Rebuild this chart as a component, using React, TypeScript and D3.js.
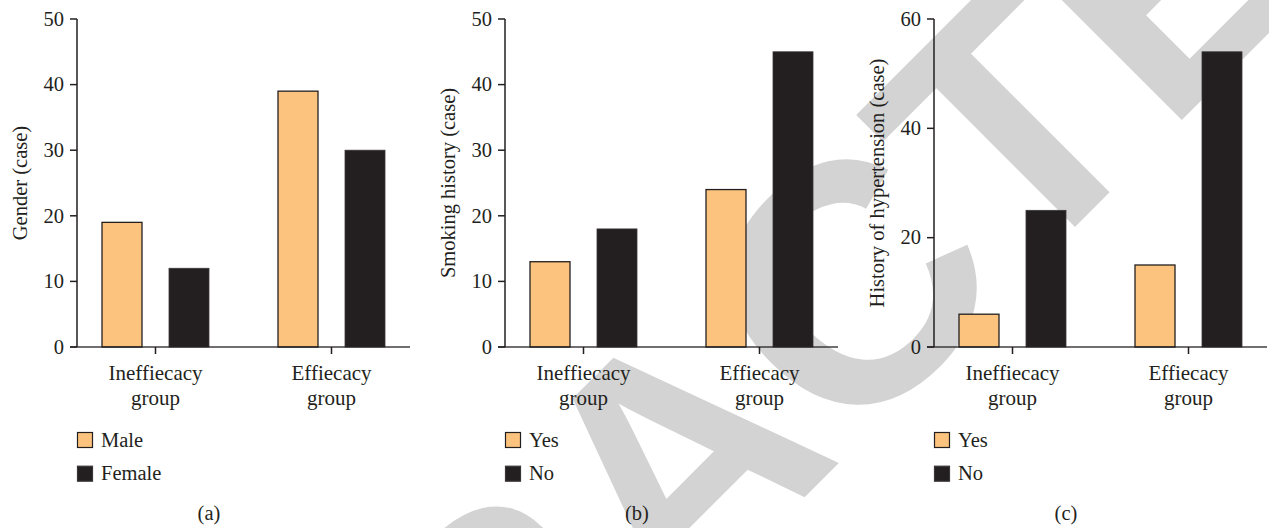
import React from "react";
import * as d3 from "d3";

const groups = ["Ineffiecacy group", "Effiecacy group"];
const groupLines = [["Ineffiecacy", "group"], ["Effiecacy", "group"]];

const genderSeries = ["Male", "Female"];
const genderValues = [[19, 12], [39, 30]];

const smokingSeries = ["Yes", "No"];
const smokingValues = [[13, 18], [24, 45]];

const hyperSeries = ["Yes", "No"];
const hyperValues = [[6, 25], [15, 54]];

const panelA = { title: "Gender (case)", max: 50, ticks: [0, 10, 20, 30, 40, 50], tag: "(a)" };
const panelB = { title: "Smoking history (case)", max: 50, ticks: [0, 10, 20, 30, 40, 50], tag: "(b)" };
const panelC = { title: "History of hypertension (case)", max: 60, ticks: [0, 20, 40, 60], tag: "(c)" };

const watermark = "RETRACTED";

const INK = "#231f20";
const ORANGE = "#fbc37e";
const SERIF = "Liberation Serif, DejaVu Serif, serif";

type PanelProps = {
  x0: number;
  cfg: { title: string; max: number; ticks: number[]; tag: string };
  series: string[];
  values: number[][];
};

function Panel({ x0, cfg, series, values }: PanelProps) {
  const top = 19;
  const bottom = 347;
  const axisLen = 333;
  const y = d3.scaleLinear().domain([0, cfg.max]).range([bottom, top]);
  const xg = d3.scalePoint<string>().domain(groups).range([0, axisLen]).padding(0.446);
  const xs = d3.scaleBand<string>().domain(series).range([-53.5, 53.5]).paddingInner(0.403).paddingOuter(0);
  const colors = [ORANGE, INK];
  const textStyle = { fontFamily: SERIF };
  return (
    <g transform={`translate(${x0},0)`} style={textStyle}>
      {groups.map((g, gi) =>
        series.map((s, si) => {
          const v = values[gi][si];
          const bx = (xg(g) as number) + (xs(s) as number);
          return (
            <rect
              key={g + s}
              x={bx}
              y={y(v)}
              width={xs.bandwidth()}
              height={bottom - y(v)}
              fill={colors[si]}
              stroke={si === 0 ? INK : "#3a3637"}
              strokeWidth={si === 0 ? 1.3 : 0.8}
            />
          );
        })
      )}
      <line x1={0} x2={0} y1={top} y2={bottom} stroke={INK} strokeWidth={1.5} />
      {cfg.ticks.map((t) => (
        <g key={t} transform={`translate(0,${y(t)})`}>
          <line x1={-7} x2={0} stroke={INK} strokeWidth={1.5} />
          <text x={-13} dy="0.33em" textAnchor="end" style={textStyle} fontSize={20.5} fill={INK}>
            {t}
          </text>
        </g>
      ))}
      <line x1={-7} x2={axisLen} y1={bottom} y2={bottom} stroke={INK} strokeWidth={1.5} opacity={0.85} />
      {groups.map((g, gi) => (
        <g key={g} transform={`translate(${xg(g)},${bottom})`}>
          <line y1={0} y2={7} stroke={INK} strokeWidth={1.5} />
          <text y={33} textAnchor="middle" style={textStyle} fontSize={21} fill={INK}>
            {groupLines[gi][0]}
          </text>
          <text y={58} textAnchor="middle" style={textStyle} fontSize={21} fill={INK}>
            {groupLines[gi][1]}
          </text>
        </g>
      ))}
      <text
        transform={`translate(-50,${(top + bottom) / 2}) rotate(-90)`}
        textAnchor="middle"
        style={textStyle}
        fontSize={20.5}
        fill={INK}
      >
        {cfg.title}
      </text>
      {series.map((s, si) => (
        <g key={s} transform={`translate(0,${432 + si * 33.7})`}>
          <rect x={0.5} y={0.5} width={15} height={15} fill={colors[si]} stroke={si === 0 ? INK : "#3a3637"} strokeWidth={1.2} />
          <text x={24} y={14.5} style={textStyle} fontSize={20.5} fill={INK}>
            {s}
          </text>
        </g>
      ))}
      <text x={132} y={520} textAnchor="middle" style={textStyle} fontSize={20.5} fill={INK}>
        {cfg.tag}
      </text>
    </g>
  );
}

export default function App() {
  return (
    <svg width={1269} height={528} style={{ position: "absolute", left: 0, top: 0, background: "#fff" }}>
      <rect width={1269} height={528} fill="#fff" />
      <text
        transform="translate(675,460) rotate(-45)"
        textAnchor="middle"
        dominantBaseline="central"
        style={{ fontFamily: "Liberation Sans, Arial, sans-serif" }}
        fontWeight="bold"
        fontSize={340}
        fill="#d3d3d3"
      >
        {watermark}
      </text>
      <Panel x0={77} cfg={panelA} series={genderSeries} values={genderValues} />
      <Panel x0={505} cfg={panelB} series={smokingSeries} values={smokingValues} />
      <Panel x0={934} cfg={panelC} series={hyperSeries} values={hyperValues} />
    </svg>
  );
}
